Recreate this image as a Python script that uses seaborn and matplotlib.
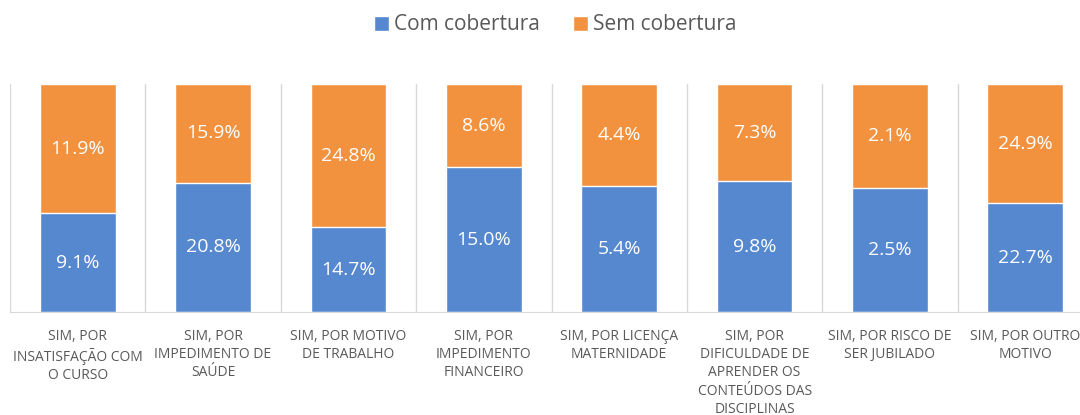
import matplotlib
matplotlib.use('Agg')
import matplotlib.pyplot as plt
import seaborn as sns
import pandas as pd

categorias = [
    "SIM, POR\nINSATISFAÇÃO COM\nO CURSO",
    "SIM, POR\nIMPEDIMENTO DE\nSAÚDE",
    "SIM, POR MOTIVO\nDE TRABALHO",
    "SIM, POR\nIMPEDIMENTO\nFINANCEIRO",
    "SIM, POR LICENÇA\nMATERNIDADE",
    "SIM, POR\nDIFICULDADE DE\nAPRENDER OS\nCONTEÚDOS DAS\nDISCIPLINAS",
    "SIM, POR RISCO DE\nSER JUBILADO",
    "SIM, POR OUTRO\nMOTIVO",
]
com_cobertura = [9.1, 20.8, 14.7, 15.0, 5.4, 9.8, 2.5, 22.7]
sem_cobertura = [11.9, 15.9, 24.8, 8.6, 4.4, 7.3, 2.1, 24.9]

AZUL = "#5588CF"
LARANJA = "#F2923F"
CINZA = "#595959"

sns.set_style("white")
plt.rcParams['font.family'] = ['Open Sans', 'DejaVu Sans']

df = pd.DataFrame({"cat": categorias, "com": com_cobertura, "sem_cob": sem_cobertura})
df["total"] = df["com"] + df["sem_cob"]
df["share_com"] = df["com"] / df["total"]
df["share_tot"] = df["total"] / df["total"]

fig = plt.figure(figsize=(10.8, 4.15), dpi=100)
ax = fig.add_axes([10 / 1080, 103 / 415, 1083 / 1080, 228 / 415])

sns.barplot(data=df, x="cat", y="share_tot", color=LARANJA, width=0.56,
            saturation=1, ax=ax, label="Sem cobertura", legend=False)
sns.barplot(data=df, x="cat", y="share_com", color=AZUL, width=0.56,
            saturation=1, ax=ax, label="Com cobertura", legend=False)

for i, row in df.iterrows():
    ax.text(i, row["share_com"] / 2, f"{row['com']:.1f}%", ha="center", va="center",
            color="white", fontsize=14)
    ax.text(i, row["share_com"] + (1 - row["share_com"]) / 2, f"{row['sem_cob']:.1f}%",
            ha="center", va="center", color="white", fontsize=14)

for k in range(len(categorias) + 1):
    ax.axvline(k - 0.5, color="#D9D9D9", lw=1, zorder=0)

ax.set_xlim(-0.5, len(categorias) - 0.5)
ax.set_ylim(0, 1)
ax.set_xlabel("")
ax.set_ylabel("")
ax.set_yticks([])
ax.tick_params(axis="x", length=0, pad=12, labelsize=10, labelcolor=CINZA)
for t in ax.get_xticklabels():
    t.set_linespacing(1.3)
for s in ["top", "left", "right"]:
    ax.spines[s].set_visible(False)
ax.spines["bottom"].set_color("#D9D9D9")

handles, labels = ax.get_legend_handles_labels()
order = [labels.index("Com cobertura"), labels.index("Sem cobertura")]
fig.legend([handles[o] for o in order], [labels[o] for o in order],
           loc="center", bbox_to_anchor=(555 / 1080, 1 - 25 / 415), ncol=2,
           frameon=False, fontsize=15, labelcolor=CINZA, handlelength=0.75,
           handleheight=0.75, handletextpad=0.2, columnspacing=1.6)

fig.savefig("out.png", dpi=100)
